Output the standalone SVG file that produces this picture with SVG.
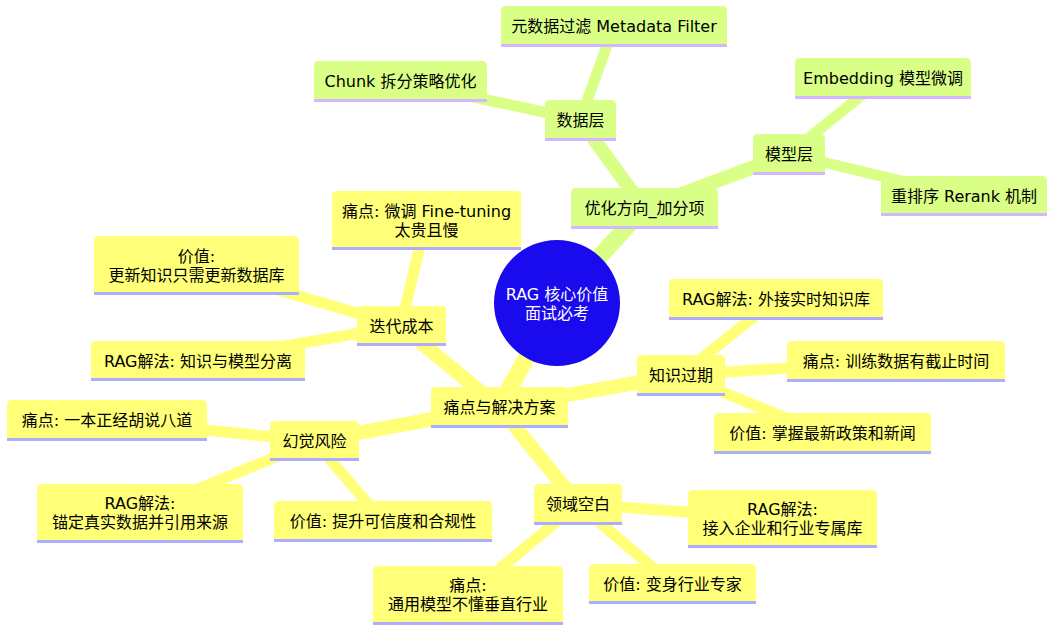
<svg xmlns="http://www.w3.org/2000/svg" width="1055" height="631" viewBox="0 0 1055 631">
<style>
text{font-family:"DejaVu Sans","Noto Sans CJK SC",sans-serif;font-size:16px;text-anchor:middle;dominant-baseline:central;fill:#000}
.g path{fill:#d9ff86}
.g line{stroke:#d3b8ff;stroke-width:3}
.y path{fill:#ffff78}
.y line{stroke:#adadff;stroke-width:3}
.eg{stroke:#d9ff86;fill:none;stroke-linecap:round}
.ey{stroke:#ffff78;fill:none;stroke-linecap:round}
.d0{stroke-width:17}
.d1{stroke-width:14}
.d2{stroke-width:11}
.root text{fill:#fff}
</style>
<rect width="1055" height="631" fill="#fff"/>
<g id="edges">
<line class="eg d0" x1="557" y1="303" x2="644" y2="208"/>
<line class="eg d1" x1="644" y1="208" x2="580" y2="120"/>
<line class="eg d1" x1="644" y1="208" x2="789" y2="154"/>
<line class="eg d2" x1="580" y1="120" x2="614" y2="26"/>
<line class="eg d2" x1="580" y1="120" x2="400" y2="81"/>
<line class="eg d2" x1="789" y1="154" x2="883" y2="78"/>
<line class="eg d2" x1="789" y1="154" x2="964" y2="196"/>
<line class="ey d0" x1="557" y1="303" x2="499" y2="407"/>
<line class="ey d1" x1="499" y1="407" x2="401" y2="326"/>
<line class="ey d1" x1="499" y1="407" x2="681" y2="375"/>
<line class="ey d1" x1="499" y1="407" x2="314" y2="441"/>
<line class="ey d1" x1="499" y1="407" x2="578" y2="504"/>
<line class="ey d2" x1="401" y1="326" x2="426" y2="220"/>
<line class="ey d2" x1="401" y1="326" x2="196" y2="266"/>
<line class="ey d2" x1="401" y1="326" x2="198" y2="361"/>
<line class="ey d2" x1="681" y1="375" x2="776" y2="299"/>
<line class="ey d2" x1="681" y1="375" x2="896" y2="361"/>
<line class="ey d2" x1="681" y1="375" x2="822" y2="433"/>
<line class="ey d2" x1="314" y1="441" x2="107" y2="420"/>
<line class="ey d2" x1="314" y1="441" x2="140" y2="513"/>
<line class="ey d2" x1="314" y1="441" x2="383" y2="521"/>
<line class="ey d2" x1="578" y1="504" x2="782" y2="519"/>
<line class="ey d2" x1="578" y1="504" x2="672" y2="584"/>
<line class="ey d2" x1="578" y1="504" x2="468" y2="595"/>
</g>
<g id="root" class="root">
<circle cx="557" cy="303" r="63" fill="#1a0aee"/>
<text x="557" y="294">RAG 核心价值</text>
<text x="557" y="313">面试必考</text>
</g>
<g id="n-opt" class="g">
<path d="M571 229V193Q571 188 576 188H713Q718 188 718 193V229Z"/>
<line x1="571" y1="227.5" x2="718" y2="227.5"/>
<text x="644.5" y="208">优化方向_加分项</text>
</g>
<g id="n-data" class="g">
<path d="M545 141V105Q545 100 550 100H611Q616 100 616 105V141Z"/>
<line x1="545" y1="139.5" x2="616" y2="139.5"/>
<text x="580.5" y="120">数据层</text>
</g>
<g id="n-meta" class="g">
<path d="M501 47V11Q501 6 506 6H722Q727 6 727 11V47Z"/>
<line x1="501" y1="45.5" x2="727" y2="45.5"/>
<text x="614" y="26">元数据过滤 Metadata Filter</text>
</g>
<g id="n-chunk" class="g">
<path d="M314 102V66Q314 61 319 61H482Q487 61 487 66V102Z"/>
<line x1="314" y1="100.5" x2="487" y2="100.5"/>
<text x="400.5" y="81">Chunk 拆分策略优化</text>
</g>
<g id="n-model" class="g">
<path d="M753 175V139Q753 134 758 134H820Q825 134 825 139V175Z"/>
<line x1="753" y1="173.5" x2="825" y2="173.5"/>
<text x="789" y="154">模型层</text>
</g>
<g id="n-emb" class="g">
<path d="M795 99V63Q795 58 800 58H966Q971 58 971 63V99Z"/>
<line x1="795" y1="97.5" x2="971" y2="97.5"/>
<text x="883" y="78">Embedding 模型微调</text>
</g>
<g id="n-rerank" class="g">
<path d="M881 216V181Q881 176 886 176H1042Q1047 176 1047 181V216Z"/>
<line x1="881" y1="214.5" x2="1047" y2="214.5"/>
<text x="964" y="196">重排序 Rerank 机制</text>
</g>
<g id="n-pain" class="y">
<path d="M431 428V392Q431 387 436 387H563Q568 387 568 392V428Z"/>
<line x1="431" y1="426.5" x2="568" y2="426.5"/>
<text x="499.5" y="407">痛点与解决方案</text>
</g>
<g id="n-iter" class="y">
<path d="M357 346V311Q357 306 362 306H441Q446 306 446 311V346Z"/>
<line x1="357" y1="344.5" x2="446" y2="344.5"/>
<text x="401.5" y="326">迭代成本</text>
</g>
<g id="n-iter-pain" class="y">
<path d="M332 250V196Q332 191 337 191H516Q521 191 521 196V250Z"/>
<line x1="332" y1="248.5" x2="521" y2="248.5"/>
<text x="426.5" y="211">痛点: 微调 Fine-tuning</text>
<text x="426.5" y="230">太贵且慢</text>
</g>
<g id="n-iter-val" class="y">
<path d="M94 295V241Q94 236 99 236H294Q299 236 299 241V295Z"/>
<line x1="94" y1="293.5" x2="299" y2="293.5"/>
<text x="196.5" y="256">价值:</text>
<text x="196.5" y="275">更新知识只需更新数据库</text>
</g>
<g id="n-iter-rag" class="y">
<path d="M91 381V346Q91 341 96 341H300Q305 341 305 346V381Z"/>
<line x1="91" y1="379.5" x2="305" y2="379.5"/>
<text x="198" y="361">RAG解法: 知识与模型分离</text>
</g>
<g id="n-know" class="y">
<path d="M637 396V360Q637 355 642 355H720Q725 355 725 360V396Z"/>
<line x1="637" y1="394.5" x2="725" y2="394.5"/>
<text x="681" y="375">知识过期</text>
</g>
<g id="n-know-rag" class="y">
<path d="M669 320V284Q669 279 674 279H878Q883 279 883 284V320Z"/>
<line x1="669" y1="318.5" x2="883" y2="318.5"/>
<text x="776" y="299">RAG解法: 外接实时知识库</text>
</g>
<g id="n-know-pain" class="y">
<path d="M787 382V346Q787 341 792 341H1000Q1005 341 1005 346V382Z"/>
<line x1="787" y1="380.5" x2="1005" y2="380.5"/>
<text x="896" y="361">痛点: 训练数据有截止时间</text>
</g>
<g id="n-know-val" class="y">
<path d="M714 454V418Q714 413 719 413H926Q931 413 931 418V454Z"/>
<line x1="714" y1="452.5" x2="931" y2="452.5"/>
<text x="822.5" y="433">价值: 掌握最新政策和新闻</text>
</g>
<g id="n-hall" class="y">
<path d="M270 461V426Q270 421 275 421H354Q359 421 359 426V461Z"/>
<line x1="270" y1="459.5" x2="359" y2="459.5"/>
<text x="314.5" y="441">幻觉风险</text>
</g>
<g id="n-hall-pain" class="y">
<path d="M7 441V405Q7 400 12 400H202Q207 400 207 405V441Z"/>
<line x1="7" y1="439.5" x2="207" y2="439.5"/>
<text x="107" y="420">痛点: 一本正经胡说八道</text>
</g>
<g id="n-hall-rag" class="y">
<path d="M37 543V489Q37 484 42 484H238Q243 484 243 489V543Z"/>
<line x1="37" y1="541.5" x2="243" y2="541.5"/>
<text x="140" y="503">RAG解法:</text>
<text x="140" y="522">锚定真实数据并引用来源</text>
</g>
<g id="n-hall-val" class="y">
<path d="M274 542V506Q274 501 279 501H487Q492 501 492 506V542Z"/>
<line x1="274" y1="540.5" x2="492" y2="540.5"/>
<text x="383" y="521">价值: 提升可信度和合规性</text>
</g>
<g id="n-domain" class="y">
<path d="M534 525V489Q534 484 539 484H617Q622 484 622 489V525Z"/>
<line x1="534" y1="523.5" x2="622" y2="523.5"/>
<text x="578" y="504">领域空白</text>
</g>
<g id="n-domain-rag" class="y">
<path d="M688 548V495Q688 490 693 490H872Q877 490 877 495V548Z"/>
<line x1="688" y1="546.5" x2="877" y2="546.5"/>
<text x="782.5" y="509">RAG解法:</text>
<text x="782.5" y="528">接入企业和行业专属库</text>
</g>
<g id="n-domain-val" class="y">
<path d="M589 604V569Q589 564 594 564H751Q756 564 756 569V604Z"/>
<line x1="589" y1="602.5" x2="756" y2="602.5"/>
<text x="672.5" y="584">价值: 变身行业专家</text>
</g>
<g id="n-domain-pain" class="y">
<path d="M373 625V571Q373 566 378 566H558Q563 566 563 571V625Z"/>
<line x1="373" y1="623.5" x2="563" y2="623.5"/>
<text x="468" y="585">痛点:</text>
<text x="468" y="604">通用模型不懂垂直行业</text>
</g>
</svg>
